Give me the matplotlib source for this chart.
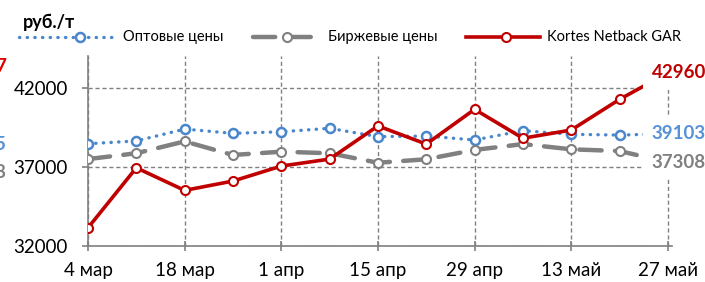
import matplotlib
matplotlib.use("Agg")
import matplotlib.pyplot as plt
import numpy as np
import pandas as pd
from matplotlib.lines import Line2D

plt.rcParams['font.family'] = ['Lato', 'DejaVu Sans']

# weekly dates
dates = pd.to_datetime(['2019-03-04', '2019-03-11', '2019-03-18', '2019-03-25',
                        '2019-04-01', '2019-04-08', '2019-04-15', '2019-04-22',
                        '2019-04-29', '2019-05-06', '2019-05-13', '2019-05-20',
                        '2019-05-27'])

wholesale = [38470, 38650, 39400, 39130, 39230, 39450, 38920, 38960,
             38710, 39300, 39070, 39020, 39103]
exchange = [37500, 37870, 38620, 37760, 37970, 37870, 37270, 37490,
            38080, 38450, 38120, 38010, 37308]
netback = [33150, 36950, 35520, 36110, 37060, 37500, 39600, 38450,
           40650, 38820, 39340, 41280, 42960]

tick_dates = pd.to_datetime(['2019-03-04', '2019-03-18', '2019-04-01', '2019-04-15',
                             '2019-04-29', '2019-05-13', '2019-05-27'])
tick_labels = ['4 мар', '18 мар', '1 апр', '15 апр', '29 апр', '13 май', '27 май']
y_ticks = [32000, 37000, 42000]

series_names = ['Оптовые цены', 'Биржевые цены', 'Kortes Netback GAR']

BLUE = '#4A86CB'
BLUE_LABEL = '#5692D6'
GRAY = '#808080'
RED = '#C00000'

W, H = 705, 282
fig = plt.figure(figsize=(7.05, 2.82), dpi=100)
ax = fig.add_axes([88 / W, 1 - 246 / H, (672 - 88) / W, (246 - 56.4) / H])

ax.plot(dates, wholesale, color=BLUE, lw=2.4, linestyle=(0, (0.1, 2.2)),
        dash_capstyle='round', marker='o', ms=6.5, mfc='white', mec=BLUE, mew=1.8, zorder=3)
ax.plot(dates, exchange, color=GRAY, lw=3.2, linestyle=(0, (5, 3)),
        dash_capstyle='round', marker='o', ms=6.5, mfc='white', mec=GRAY, mew=1.5, zorder=3)
ax.plot(dates, netback, color=RED, lw=2.6, marker='o', ms=6.5, mfc='white',
        mec=RED, mew=1.5, zorder=4)

ax.set_ylim(32000, 44000)
ax.set_xlim(dates[0], dates[-1] + pd.Timedelta(days=0.6))
ax.set_yticks(y_ticks)
ax.set_xticks(tick_dates)
ax.set_xticklabels(tick_labels)

ax.grid(True, color=GRAY, linestyle=(0, (3, 2)), lw=1.0)
ax.set_axisbelow(True)
for s in ['top', 'right']:
    ax.spines[s].set_visible(False)
for s in ['left', 'bottom']:
    ax.spines[s].set_color(GRAY)
    ax.spines[s].set_linewidth(1.2)
ax.tick_params(axis='y', direction='out', length=4.5, width=1.2, color=GRAY, pad=10,
               labelsize=13.5, labelcolor='black')
ax.tick_params(axis='x', direction='inout', length=7, width=1.2, color=GRAY, pad=8,
               labelsize=13.5, labelcolor='black')

# end-of-series labels with white boxes that hide the line ends
for vals, col in [(exchange, GRAY), (wholesale, BLUE_LABEL), (netback, RED)]:
    ax.annotate(f'{vals[-1]}', xy=(dates[-1], vals[-1]), xytext=(-16, 0),
                textcoords='offset pixels', ha='left', va='center',
                fontsize=13.5, fontweight='bold', color=col, zorder=10,
                annotation_clip=False,
                bbox=dict(boxstyle='square,pad=0.45', fc='white', ec='none'))

# unit label
fig.text(23 / W, 1 - 28 / H, 'руб./т', fontsize=13, fontweight='bold', va='baseline')

# legend drawn by hand
legend_specs = [
    (19, 115, 80, 123, BLUE, dict(lw=2.4, linestyle=(0, (0.1, 2.2)), dash_capstyle='round'), 1.8),
    (253, 321, 287, 328, GRAY, dict(lw=3.2, linestyle=(0, (5, 3)), dash_capstyle='round'), 1.5),
    (466, 540, 506, 547, RED, dict(lw=2.6), 1.5),
]
ly = 1 - 37 / H
for (x0, x1, xm, tx, col, kw, mew), name in zip(legend_specs, series_names):
    fig.add_artist(Line2D([x0 / W, x1 / W], [ly, ly], color=col, transform=fig.transFigure, **kw))
    fig.add_artist(Line2D([xm / W], [ly], marker='o', ms=6.5, mfc='white', mec=col, mew=mew,
                          transform=fig.transFigure))
    fig.text(tx / W, ly, name, fontsize=10.5, va='center', ha='left')

# cut-off label fragments from the neighbouring chart at the left edge
fig.text(6 / W, 1 - 66 / H, '7', color='#E00000', fontsize=13.5, fontweight='bold', ha='right', va='center')
fig.text(5 / W, 1 - 145 / H, '5', color=BLUE_LABEL, fontsize=13.5, fontweight='bold', ha='right', va='center')
fig.text(5 / W, 1 - 172 / H, '8', color=GRAY, fontsize=13.5, fontweight='bold', ha='right', va='center')

fig.savefig('out.png', dpi=100)
